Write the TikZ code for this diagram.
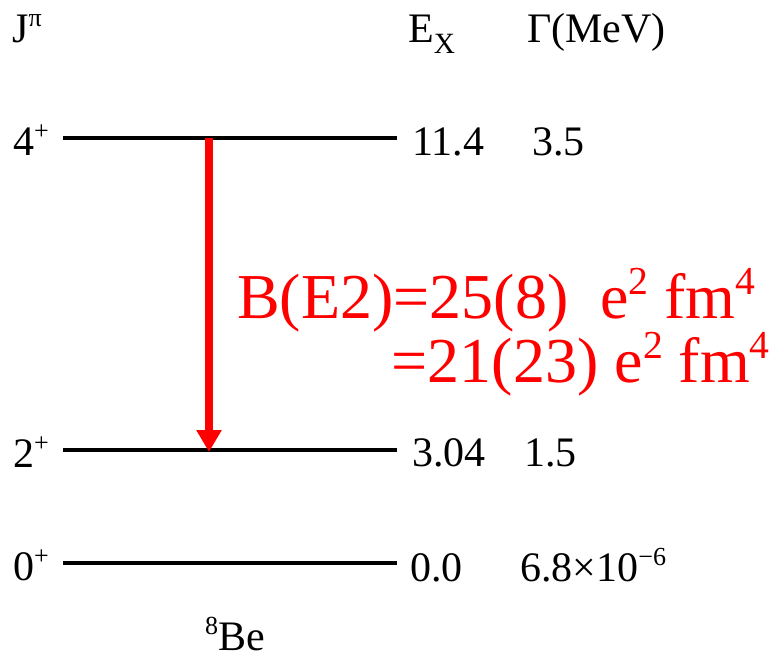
\documentclass[tikz,border=0pt]{standalone}
\usepackage{fontspec}
\setmainfont{Liberation Serif}
\usetikzlibrary{arrows.meta}
\newcommand\mysups[1]{\raisebox{0.36em}{\scalebox{0.62}{#1}}}
\begin{document}
\begin{tikzpicture}[x=1pt,y=-1pt,
  lbl/.style={inner sep=0pt,anchor=base west,font=\fontsize{42}{48}\selectfont},
  red lbl/.style={inner sep=0pt,text=red,font=\fontsize{64}{70}\selectfont},
  level/.style={line width=4pt},
  trans/.style={red,line width=8pt,-{Triangle[width=24pt,length=22pt]}}]
\useasboundingbox (0,0) rectangle (780,657);
% headers
\node[lbl] (hj) at (12,42) {J\mysups{π}};
\node[lbl] (he) at (408,42) {E\raisebox{-0.28em}{\scalebox{0.7}{X}}};
\node[lbl] (hg) at (527,42) {Γ(MeV)};
% levels
\coordinate (l4a) at (63,138); \coordinate (l4b) at (397,138);
\coordinate (l2a) at (63,450); \coordinate (l2b) at (397,450);
\coordinate (l0a) at (63,563); \coordinate (l0b) at (397,563);
\draw[level] (l4a) -- (l4b);
\draw[level] (l2a) -- (l2b);
\draw[level] (l0a) -- (l0b);
% spin labels
\node[lbl] (j4) at (13,155) {4\mysups{+}};
\node[lbl] (j2) at (13,467) {2\mysups{+}};
\node[lbl] (j0) at (13,580) {0\mysups{+}};
% energies and widths
\node[lbl] (e4) at (412,155) {11.4};
\node[lbl] (g4) at (532,155) {3.5};
\node[lbl] (e2) at (412,466) {3.04};
\node[lbl] (g2) at (524,466) {1.5};
\node[lbl] (e0) at (410,581) {0.0};
\node[lbl] (g0) at (520,581) {6.8×10\mysups{−6}};
% nucleus
\node[lbl] (nuc) at (205,650) {\mysups{8}Be};
% transition
\coordinate (t4) at (209,138);
\coordinate (t2) at (209,452);
\draw[trans] (t4) -- (t2);
\node[red lbl,anchor=base west] (b1) at (237,318) {B(E2)=25(8)\ \ e\mysups{2} fm\mysups{4}};
\node[red lbl,anchor=base east] (b2) at (770,382) {=21(23) e\mysups{2} fm\mysups{4}};
\end{tikzpicture}
\end{document}
